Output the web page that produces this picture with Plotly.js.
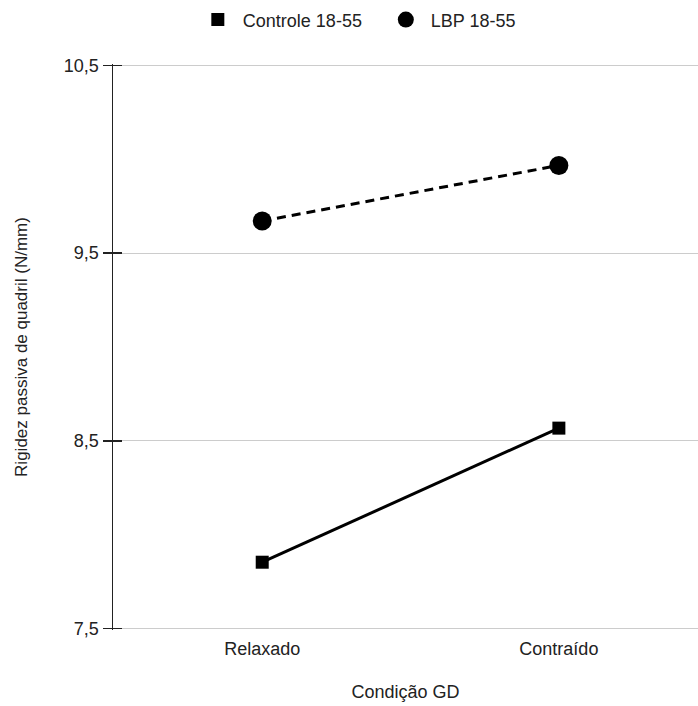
<!DOCTYPE html>
<html>
<head>
<meta charset="utf-8">
<script src="https://cdn.plot.ly/plotly-3.0.1.min.js"></script>
<style>html,body{margin:0;padding:0;background:#fff;}#chart{width:698px;height:706px;}</style>
</head>
<body>
<div id="chart"></div>
<script>
const categories = ["Relaxado", "Contraído"];
const controleValues = [7.854, 8.568];
const lbpValues = [9.671, 9.967];
const seriesNames = ["Controle 18-55", "LBP 18-55"];
const yTickVals = [7.5, 8.5, 9.5, 10.5];
const yTickText = ["7,5", "8,5", "9,5", "10,5"];

const font = "Arial, 'Liberation Sans', sans-serif";
const txt = "#222";
const yRange = [7.493, 10.507];

const traces = [
  {
    x: categories, y: controleValues, type: "scatter", mode: "lines+markers",
    name: seriesNames[0], showlegend: false,
    line: {color: "#000", width: 3},
    marker: {symbol: "square", size: 13, color: "#000"}
  },
  {
    x: categories, y: lbpValues, type: "scatter", mode: "lines+markers",
    name: seriesNames[1], showlegend: false,
    line: {color: "#000", width: 3, dash: "9px,6px"},
    marker: {symbol: "circle", size: 19, color: "#000"}
  },
  {
    x: [null], y: [null], type: "scatter", mode: "markers", name: "\u00a0" + seriesNames[0],
    marker: {symbol: "square", size: 13, color: "#000"}, xaxis: "x", yaxis: "y2"
  },
  {
    x: [null], y: [null], type: "scatter", mode: "markers", name: "\u00a0" + seriesNames[1],
    marker: {symbol: "circle", size: 19, color: "#000"}, xaxis: "x", yaxis: "y2"
  }
];

const layout = {
  width: 698, height: 706,
  margin: {l: 113, r: 0, t: 64, b: 76},
  paper_bgcolor: "#fff", plot_bgcolor: "#fff",
  font: {family: font, size: 18, color: txt},
  showlegend: true,
  legend: {
    orientation: "h", x: 0.145, xanchor: "left", y: 1.078, yanchor: "middle",
    font: {family: font, size: 18, color: txt},
    entrywidth: 143, entrywidthmode: "pixels", tracegroupgap: 0
  },
  xaxis: {
    type: "category", range: [-0.503, 1.469],
    showgrid: false, zeroline: false, showline: false,
    ticks: "", ticklabelstandoff: 6, tickfont: {family: font, size: 18, color: txt},
    title: {text: "Condição GD", font: {family: font, size: 18, color: txt}, standoff: 27}
  },
  yaxis: {
    range: yRange, tickvals: yTickVals, ticktext: yTickText,
    showgrid: true, gridcolor: "#cccccc", gridwidth: 1, zeroline: false,
    showline: true, linecolor: "#222", linewidth: 1.5,
    ticks: "outside", ticklen: 9, tickwidth: 1.5, tickcolor: "#222",
    tickfont: {family: font, size: 18, color: txt},
    title: {text: "Rigidez passiva de quadril (N/mm)", font: {family: font, size: 17, color: txt}, standoff: 32}
  },
  yaxis2: {
    visible: true, overlaying: "y", anchor: "x", side: "left", range: yRange,
    tickmode: "array", tickvals: yTickVals,
    showticklabels: false, showgrid: false, zeroline: false, showline: false,
    ticks: "inside", ticklen: 9, tickwidth: 1.5, tickcolor: "#222"
  }
};

Plotly.newPlot("chart", traces, layout, {displayModeBar: false, staticPlot: true});
</script>
</body>
</html>
